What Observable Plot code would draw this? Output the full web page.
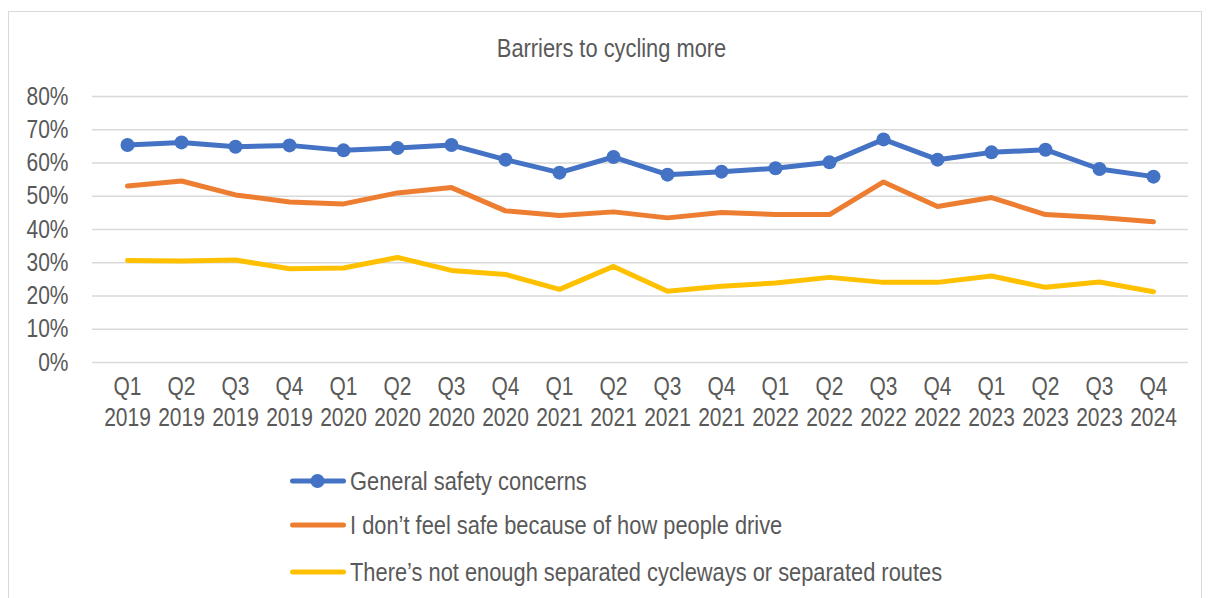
<!DOCTYPE html>
<html>
<head>
<meta charset="utf-8">
<script src="https://cdn.jsdelivr.net/npm/d3@7"></script>
<script src="https://cdn.jsdelivr.net/npm/@observablehq/plot@0.6"></script>
<style>
  html, body { margin: 0; padding: 0; background: #fff; }
  body { width: 1211px; height: 598px; overflow: hidden; position: relative;
         font-family: "Liberation Sans Narrow", "Arial Narrow", "Liberation Sans", Arial, sans-serif; color: #595959; }
  #frame { position: absolute; left: 8px; top: 11px; width: 1194px; height: 620px; border: 1.5px solid #d9d9d9; box-sizing: border-box; }
  #title { position: absolute; left: 0; top: 35px; width: 1224px; text-align: center; font-size: 26px; line-height: 26px; }
  #title span { display: inline-block; transform: scaleX(0.84); transform-origin: 50% 50%; }
  #chart { position: absolute; left: 0; top: 0; }
  #legend { position: absolute; left: 290px; top: 0; }
  .row { position: absolute; left: 0; height: 30px; display: flex; align-items: center; white-space: nowrap; font-size: 26px; }
  .row svg { margin-right: 4px; flex: none; }
  .row span { display: inline-block; transform: scaleX(0.84); transform-origin: 0 50%; }
</style>
</head>
<body>
<div id="frame"></div>
<div id="title"><span>Barriers to cycling more</span></div>
<div id="chart"></div>
<div id="legend"></div>
<script>
const quarters = ["Q1","Q2","Q3","Q4","Q1","Q2","Q3","Q4","Q1","Q2","Q3","Q4","Q1","Q2","Q3","Q4","Q1","Q2","Q3","Q4"];
const years    = ["2019","2019","2019","2019","2020","2020","2020","2020","2021","2021","2021","2021","2022","2022","2022","2022","2023","2023","2023","2024"];
const categories = quarters.map((q, i) => q + " " + years[i]);

const seriesNames = [
  "General safety concerns",
  "I don\u2019t feel safe because of how people drive",
  "There\u2019s not enough separated cycleways or separated routes"
];
const generalSafety = [65.4, 66.2, 64.9, 65.3, 63.8, 64.5, 65.4, 61.0, 57.1, 61.8, 56.5, 57.4, 58.4, 60.2, 67.1, 61.0, 63.2, 64.0, 58.2, 55.9];
const howPeopleDrive = [53.1, 54.6, 50.4, 48.3, 47.7, 51.0, 52.6, 45.6, 44.2, 45.3, 43.5, 45.1, 44.5, 44.5, 54.3, 46.9, 49.6, 44.5, 43.6, 42.3];
const notEnoughCycleways = [30.7, 30.5, 30.8, 28.2, 28.4, 31.6, 27.7, 26.5, 22.0, 28.9, 21.4, 22.9, 23.9, 25.6, 24.1, 24.1, 26.0, 22.6, 24.2, 21.3];
const yTicks = [0, 10, 20, 30, 40, 50, 60, 70, 80];
const colors = ["#4472C4", "#ED7D31", "#FFC000"];

const allSeries = [generalSafety, howPeopleDrive, notEnoughCycleways];
const rows = allSeries.flatMap((vals, s) => vals.map((v, i) => ({series: seriesNames[s], cat: categories[i], value: v})));

const H = 450;
const chart = Plot.plot({
  width: 1211,
  height: H,
  marginLeft: 92,
  marginRight: 23,
  marginTop: 96,
  marginBottom: H - 362,
  style: {fontFamily: '"Liberation Sans Narrow", "Arial Narrow", "Liberation Sans", Arial, sans-serif', color: "#595959", background: "transparent"},
  x: {type: "point", domain: categories, padding: 0.5},
  y: {domain: [0, 80]},
  color: {domain: seriesNames, range: colors},
  marks: [
    Plot.gridY(yTicks, {stroke: "#d9d9d9", strokeOpacity: 1, strokeWidth: 1.5}),
    Plot.axisY(yTicks, {tickSize: 0, tickPadding: 24, fontSize: 25, fill: "#595959", tickFormat: d => d + "%", label: null}),
    Plot.axisX({tickSize: 0, tickPadding: 10, fontSize: 25, fill: "#595959", lineHeight: 1.24, tickFormat: d => d.replace(" ", "\n"), label: null}),
    Plot.line(rows, {x: "cat", y: "value", z: "series", stroke: "series", strokeWidth: 5, strokeLinejoin: "round", strokeLinecap: "round"}),
    Plot.dot(rows.filter(d => d.series === seriesNames[0]), {x: "cat", y: "value", r: 7, fill: colors[0], stroke: "none"})
  ]
});
// condense axis text horizontally to mimic a narrow face
chart.querySelectorAll('g[aria-label="x-axis tick label"] text, g[aria-label="y-axis tick label"] text').forEach(t => {
  const tr = t.getAttribute("transform") || "";
  t.setAttribute("transform", tr + " scale(0.84,1)");
});
document.getElementById("chart").appendChild(chart);

const legend = document.getElementById("legend");
const rowCenters = [481, 525, 572];
seriesNames.forEach((name, i) => {
  const row = document.createElement("div");
  row.className = "row";
  row.style.top = (rowCenters[i] - 15) + "px";
  const dot = i === 0 ? `<circle cx="27.5" cy="10" r="7" fill="${colors[i]}"/>` : "";
  row.innerHTML = `<svg width="56" height="20"><line x1="2.5" y1="10" x2="53.5" y2="10" stroke="${colors[i]}" stroke-width="5" stroke-linecap="round"/>${dot}</svg><span>${name}</span>`;
  legend.appendChild(row);
});
</script>
</body>
</html>
